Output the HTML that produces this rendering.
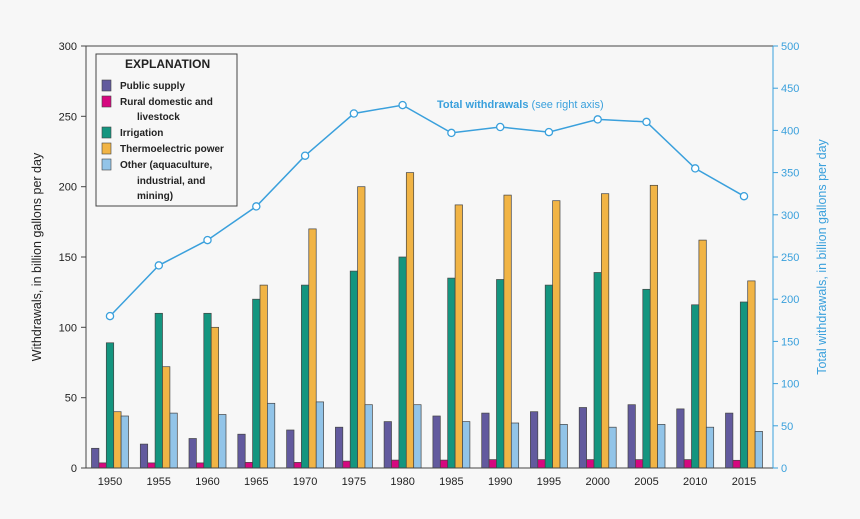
<!DOCTYPE html>
<html><head><meta charset="utf-8"><style>body{margin:0;background:#f7f7f7}svg{display:block}text{font-family:"Liberation Sans",sans-serif}</style></head>
<body>
<svg width="860" height="519" xmlns="http://www.w3.org/2000/svg">
<rect width="860" height="519" fill="#f7f7f7"/>
<g stroke="#444" stroke-width="0.7">
<g fill="#625a9e">
<rect x="91.5" y="448.3" width="7.4" height="19.7"/><rect x="140.3" y="444.1" width="7.4" height="23.9"/><rect x="189.0" y="438.5" width="7.4" height="29.5"/><rect x="237.8" y="434.2" width="7.4" height="33.8"/><rect x="286.6" y="430.0" width="7.4" height="38.0"/><rect x="335.4" y="427.2" width="7.4" height="40.8"/><rect x="384.1" y="421.6" width="7.4" height="46.4"/><rect x="432.9" y="416.0" width="7.4" height="52.0"/><rect x="481.7" y="413.1" width="7.4" height="54.9"/><rect x="530.4" y="411.7" width="7.4" height="56.3"/><rect x="579.2" y="407.5" width="7.4" height="60.5"/><rect x="628.0" y="404.7" width="7.4" height="63.3"/><rect x="676.7" y="408.9" width="7.4" height="59.1"/><rect x="725.5" y="413.1" width="7.4" height="54.9"/>
</g>
<g fill="#d6087f">
<rect x="98.9" y="462.9" width="7.4" height="5.1"/><rect x="147.7" y="462.9" width="7.4" height="5.1"/><rect x="196.4" y="462.9" width="7.4" height="5.1"/><rect x="245.2" y="462.4" width="7.4" height="5.6"/><rect x="294.0" y="462.4" width="7.4" height="5.6"/><rect x="342.8" y="461.1" width="7.4" height="6.9"/><rect x="391.5" y="460.1" width="7.4" height="7.9"/><rect x="440.3" y="460.1" width="7.4" height="7.9"/><rect x="489.1" y="459.6" width="7.4" height="8.4"/><rect x="537.8" y="459.6" width="7.4" height="8.4"/><rect x="586.6" y="459.6" width="7.4" height="8.4"/><rect x="635.4" y="459.6" width="7.4" height="8.4"/><rect x="684.1" y="459.6" width="7.4" height="8.4"/><rect x="732.9" y="460.3" width="7.4" height="7.7"/>
</g>
<g fill="#14957f">
<rect x="106.3" y="342.8" width="7.4" height="125.2"/><rect x="155.1" y="313.3" width="7.4" height="154.7"/><rect x="203.8" y="313.3" width="7.4" height="154.7"/><rect x="252.6" y="299.2" width="7.4" height="168.8"/><rect x="301.4" y="285.1" width="7.4" height="182.9"/><rect x="350.2" y="271.1" width="7.4" height="196.9"/><rect x="398.9" y="257.0" width="7.4" height="211.0"/><rect x="447.7" y="278.1" width="7.4" height="189.9"/><rect x="496.5" y="279.5" width="7.4" height="188.5"/><rect x="545.2" y="285.1" width="7.4" height="182.9"/><rect x="594.0" y="272.5" width="7.4" height="195.5"/><rect x="642.8" y="289.3" width="7.4" height="178.7"/><rect x="691.5" y="304.8" width="7.4" height="163.2"/><rect x="740.3" y="302.0" width="7.4" height="166.0"/>
</g>
<g fill="#f1b445">
<rect x="113.7" y="411.7" width="7.4" height="56.3"/><rect x="162.5" y="366.7" width="7.4" height="101.3"/><rect x="211.2" y="327.3" width="7.4" height="140.7"/><rect x="260.0" y="285.1" width="7.4" height="182.9"/><rect x="308.8" y="228.9" width="7.4" height="239.1"/><rect x="357.6" y="186.7" width="7.4" height="281.3"/><rect x="406.3" y="172.6" width="7.4" height="295.4"/><rect x="455.1" y="204.9" width="7.4" height="263.1"/><rect x="503.9" y="195.1" width="7.4" height="272.9"/><rect x="552.6" y="200.7" width="7.4" height="267.3"/><rect x="601.4" y="193.7" width="7.4" height="274.3"/><rect x="650.2" y="185.3" width="7.4" height="282.7"/><rect x="698.9" y="240.1" width="7.4" height="227.9"/><rect x="747.7" y="280.9" width="7.4" height="187.1"/>
</g>
<g fill="#92c4e8">
<rect x="121.1" y="416.0" width="7.4" height="52.0"/><rect x="169.9" y="413.1" width="7.4" height="54.9"/><rect x="218.6" y="414.5" width="7.4" height="53.5"/><rect x="267.4" y="403.3" width="7.4" height="64.7"/><rect x="316.2" y="401.9" width="7.4" height="66.1"/><rect x="365.0" y="404.7" width="7.4" height="63.3"/><rect x="413.7" y="404.7" width="7.4" height="63.3"/><rect x="462.5" y="421.6" width="7.4" height="46.4"/><rect x="511.3" y="423.0" width="7.4" height="45.0"/><rect x="560.0" y="424.4" width="7.4" height="43.6"/><rect x="608.8" y="427.2" width="7.4" height="40.8"/><rect x="657.6" y="424.4" width="7.4" height="43.6"/><rect x="706.3" y="427.2" width="7.4" height="40.8"/><rect x="755.1" y="431.4" width="7.4" height="36.6"/>
</g>
</g>
<polyline points="110,316.1 158.8,265.4 207.5,240.1 256.3,206.4 305.1,155.7 353.9,113.5 402.6,105.1 451.4,132.9 500.2,127.0 548.9,132.1 597.7,119.4 646.5,121.9 695.2,168.4 744.0,196.2" fill="none" stroke="#3aa0dc" stroke-width="1.5"/>
<g fill="#fff" stroke="#3aa0dc" stroke-width="1.3">
<circle cx="110" cy="316.1" r="3.6"/><circle cx="158.8" cy="265.4" r="3.6"/><circle cx="207.5" cy="240.1" r="3.6"/><circle cx="256.3" cy="206.4" r="3.6"/><circle cx="305.1" cy="155.7" r="3.6"/><circle cx="353.9" cy="113.5" r="3.6"/><circle cx="402.6" cy="105.1" r="3.6"/><circle cx="451.4" cy="132.9" r="3.6"/><circle cx="500.2" cy="127.0" r="3.6"/><circle cx="548.9" cy="132.1" r="3.6"/><circle cx="597.7" cy="119.4" r="3.6"/><circle cx="646.5" cy="121.9" r="3.6"/><circle cx="695.2" cy="168.4" r="3.6"/><circle cx="744.0" cy="196.2" r="3.6"/>
</g>
<g font-size="11" text-anchor="middle" fill="#222">
<text x="110" y="485">1950</text><text x="158.8" y="485">1955</text><text x="207.5" y="485">1960</text><text x="256.3" y="485">1965</text><text x="305.1" y="485">1970</text><text x="353.9" y="485">1975</text><text x="402.6" y="485">1980</text><text x="451.4" y="485">1985</text><text x="500.2" y="485">1990</text><text x="548.9" y="485">1995</text><text x="597.7" y="485">2000</text><text x="646.5" y="485">2005</text><text x="695.2" y="485">2010</text><text x="744.0" y="485">2015</text>
</g>
<g stroke="#444"><line x1="81" x2="86" y1="468" y2="468"/><line x1="81" x2="86" y1="397.7" y2="397.7"/><line x1="81" x2="86" y1="327.3" y2="327.3"/><line x1="81" x2="86" y1="257" y2="257"/><line x1="81" x2="86" y1="186.7" y2="186.7"/><line x1="81" x2="86" y1="116.3" y2="116.3"/><line x1="81" x2="86" y1="46" y2="46"/></g>
<g font-size="11" text-anchor="end" fill="#222">
<text x="77" y="472">0</text><text x="77" y="401.7">50</text><text x="77" y="331.3">100</text><text x="77" y="261">150</text><text x="77" y="190.7">200</text><text x="77" y="120.3">250</text><text x="77" y="50">300</text>
</g>
<g stroke="#3aa0dc"><line x1="773" x2="778" y1="468" y2="468"/><line x1="773" x2="778" y1="425.8" y2="425.8"/><line x1="773" x2="778" y1="383.6" y2="383.6"/><line x1="773" x2="778" y1="341.4" y2="341.4"/><line x1="773" x2="778" y1="299.2" y2="299.2"/><line x1="773" x2="778" y1="257" y2="257"/><line x1="773" x2="778" y1="214.8" y2="214.8"/><line x1="773" x2="778" y1="172.6" y2="172.6"/><line x1="773" x2="778" y1="130.4" y2="130.4"/><line x1="773" x2="778" y1="88.2" y2="88.2"/><line x1="773" x2="778" y1="46" y2="46"/></g>
<g font-size="11" fill="#3aa0dc">
<text x="781" y="472">0</text><text x="781" y="429.8">50</text><text x="781" y="387.6">100</text><text x="781" y="345.4">150</text><text x="781" y="303.2">200</text><text x="781" y="261">250</text><text x="781" y="218.8">300</text><text x="781" y="176.6">350</text><text x="781" y="134.4">400</text><text x="781" y="92.2">450</text><text x="781" y="50">500</text>
</g>
<line x1="86" y1="46" x2="86" y2="468" stroke="#444"/>
<line x1="86" y1="46" x2="773" y2="46" stroke="#444"/>
<line x1="86" y1="468" x2="773" y2="468" stroke="#444"/>
<line x1="773" y1="46" x2="773" y2="468" stroke="#3aa0dc"/>
<text transform="translate(41,257) rotate(-90)" font-size="12.5" text-anchor="middle" fill="#222">Withdrawals, in billion gallons per day</text>
<text transform="translate(826,257) rotate(-90)" font-size="12.5" text-anchor="middle" fill="#3aa0dc">Total withdrawals, in billion gallons per day</text>
<text x="437" y="108" font-size="11" fill="#3aa0dc" font-weight="bold">Total withdrawals <tspan font-weight="normal">(see right axis)</tspan></text>
<rect x="96" y="54" width="141" height="152" fill="#f7f7f7" stroke="#444"/>
<text x="125" y="68" font-size="12" font-weight="bold" fill="#222">EXPLANATION</text>
<g font-size="10" font-weight="bold" fill="#222">
<rect x="102" y="80" width="9" height="11" fill="#625a9e" stroke="#444" stroke-width="0.6"/><text x="120" y="89">Public supply</text>
<rect x="102" y="96" width="9" height="11" fill="#d6087f" stroke="#444" stroke-width="0.6"/><text x="120" y="105">Rural domestic and</text><text x="137" y="120">livestock</text>
<rect x="102" y="127" width="9" height="11" fill="#14957f" stroke="#444" stroke-width="0.6"/><text x="120" y="136">Irrigation</text>
<rect x="102" y="143" width="9" height="11" fill="#f1b445" stroke="#444" stroke-width="0.6"/><text x="120" y="152">Thermoelectric power</text>
<rect x="102" y="159" width="9" height="11" fill="#92c4e8" stroke="#444" stroke-width="0.6"/><text x="120" y="168">Other (aquaculture,</text><text x="137" y="184">industrial, and</text><text x="137" y="199">mining)</text>
</g>
</svg>
</body></html>
